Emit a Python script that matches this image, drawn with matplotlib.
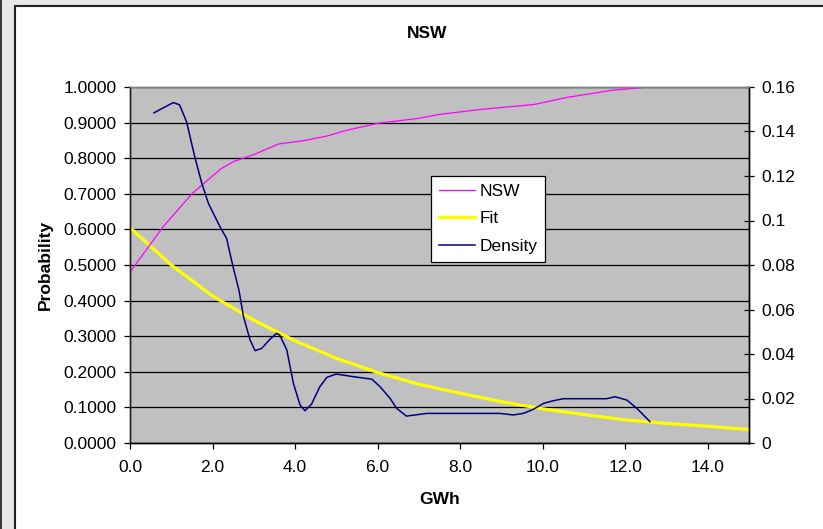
import matplotlib
matplotlib.use("Agg")
import matplotlib.pyplot as plt
from matplotlib.patches import Rectangle
from matplotlib.ticker import FormatStrFormatter, FuncFormatter

plt.rcParams['font.family'] = ['Liberation Sans', 'DejaVu Sans']

# ---------------- data ----------------
# cumulative probability (left axis)
nsw_x = [0.0, 0.8, 1.5, 2.2, 2.5, 3.0, 3.6, 4.2, 4.8, 5.2, 6.0, 7.0, 7.5,
         8.5, 9.8, 10.6, 11.7, 12.6]
nsw_p = [0.480, 0.607, 0.700, 0.770, 0.790, 0.810, 0.840, 0.849, 0.863, 0.877,
         0.898, 0.912, 0.923, 0.937, 0.951, 0.971, 0.991, 1.000]

# fitted curve (left axis)
fit_x = [0, 1, 2, 3, 4, 5, 6, 7, 8, 9, 10, 11, 12, 13, 14, 15]
fit_p = [0.605, 0.500, 0.413, 0.345, 0.287, 0.238, 0.198, 0.165, 0.140, 0.116,
         0.096, 0.080, 0.065, 0.055, 0.047, 0.038]

# density (right axis)
dens_x = [0.58, 1.05, 1.2, 1.37, 1.57, 1.74, 1.9, 2.18, 2.34, 2.5, 2.64, 2.75,
          2.91, 3.03, 3.19, 3.39, 3.55, 3.63, 3.8, 3.96, 4.12, 4.24, 4.4, 4.6,
          4.77, 5.0, 5.41, 5.86, 6.06, 6.3, 6.46, 6.7, 6.95, 7.19, 8.97, 9.29,
          9.53, 9.77, 10.02, 10.26, 10.5, 11.55, 11.75, 12.04, 12.28, 12.6]
dens_y = [0.1484, 0.1530, 0.1520, 0.1444, 0.1286, 0.1167, 0.1077, 0.0972, 0.0920,
          0.0790, 0.0687, 0.0568, 0.0463, 0.0415, 0.0425, 0.0466, 0.0493, 0.0485,
          0.0418, 0.0268, 0.0171, 0.0145, 0.0175, 0.0253, 0.0295, 0.0310, 0.0298,
          0.0287, 0.0253, 0.0201, 0.0156, 0.0121, 0.0127, 0.0133, 0.0133, 0.0126,
          0.0133, 0.0151, 0.0178, 0.0190, 0.0199, 0.0199, 0.0208, 0.0193, 0.0156,
          0.0096]

x_ticks = [0, 2, 4, 6, 8, 10, 12, 14]
left_ticks = [0.0, 0.1, 0.2, 0.3, 0.4, 0.5, 0.6, 0.7, 0.8, 0.9, 1.0]
right_ticks = [0, 0.02, 0.04, 0.06, 0.08, 0.1, 0.12, 0.14, 0.16]

FS = 12.5

fig = plt.figure(figsize=(8.23, 5.29), dpi=100)
fig.patch.set_facecolor('white')

# window frame around the chart area
W, H = 823, 529
fig.patches.append(Rectangle((0, 0), 1, 1, transform=fig.transFigure,
                             facecolor='#e8e8e8', edgecolor='none', zorder=-3))
fig.patches.append(Rectangle((0, 0), 2 / W, 1, transform=fig.transFigure,
                             facecolor='#3a3a3a', edgecolor='none', zorder=-2))
fig.patches.append(Rectangle((14.5 / W, -0.1), 1.2, 1 - 6.5 / H + 0.1,
                             transform=fig.transFigure, facecolor='white',
                             edgecolor='#222222', linewidth=1.5, zorder=-1))

ax = fig.add_axes([130 / W, 1 - 443 / H, (749 - 130) / W, (443 - 87) / H])
ax.set_facecolor('#c0c0c0')
ax2 = ax.twinx()

l1, = ax.plot(nsw_x, nsw_p, color='#ff00ff', linewidth=0.9, label='NSW', zorder=3)
l2, = ax.plot(fit_x, fit_p, color='#ffff00', linewidth=2.3, label='Fit', zorder=2)
l3, = ax2.plot(dens_x, dens_y, color='#000080', linewidth=1.1, label='Density')

ax.set_xlim(0, 15)
ax.set_ylim(0, 1.0)
ax2.set_ylim(0, 0.16)

ax.set_xticks(x_ticks)
ax.xaxis.set_major_formatter(FormatStrFormatter('%.1f'))
ax.set_yticks(left_ticks)
ax.yaxis.set_major_formatter(FormatStrFormatter('%.4f'))
ax2.set_yticks(right_ticks)
ax2.yaxis.set_major_formatter(FuncFormatter(lambda v, p: '0' if v == 0 else '%g' % v))

ax.yaxis.grid(True, color='black', linewidth=0.9)
ax.set_axisbelow(True)

ax.tick_params(axis='y', direction='out', length=4.5, width=0.9, labelsize=FS, pad=5)
ax.tick_params(axis='x', direction='out', length=4, width=0.9, labelsize=FS, pad=8)
ax2.tick_params(axis='y', direction='inout', length=7.5, width=0.9, labelsize=FS, pad=5)

for a in (ax, ax2):
    a.spines['top'].set_color('#808080')
    a.spines['left'].set_color('#202020')
    a.spines['right'].set_color('black')
    a.spines['bottom'].set_color('black')
    for s in a.spines.values():
        s.set_linewidth(1.0)

fig.text(427 / W, 1 - 33 / H, 'NSW', ha='center', va='center',
         fontsize=FS, fontweight='bold')
fig.text(45 / W, 1 - 265 / H, 'Probability', ha='center', va='center',
         rotation=90, fontsize=FS, fontweight='bold')
fig.text(440 / W, 1 - 500 / H, 'GWh', ha='center', va='center',
         fontsize=FS, fontweight='bold')

leg = ax2.legend([l1, l2, l3], ['NSW', 'Fit', 'Density'],
                 loc='upper left', bbox_to_anchor=(431 / W, 1 - 176 / H),
                 bbox_transform=fig.transFigure, borderaxespad=0,
                 fontsize=FS, frameon=True, fancybox=False, framealpha=1,
                 edgecolor='black', handlelength=2.1, handletextpad=0.25,
                 borderpad=0.45, labelspacing=0.71)
leg.get_frame().set_linewidth(0.9)

fig.savefig('out.png', dpi=100)
